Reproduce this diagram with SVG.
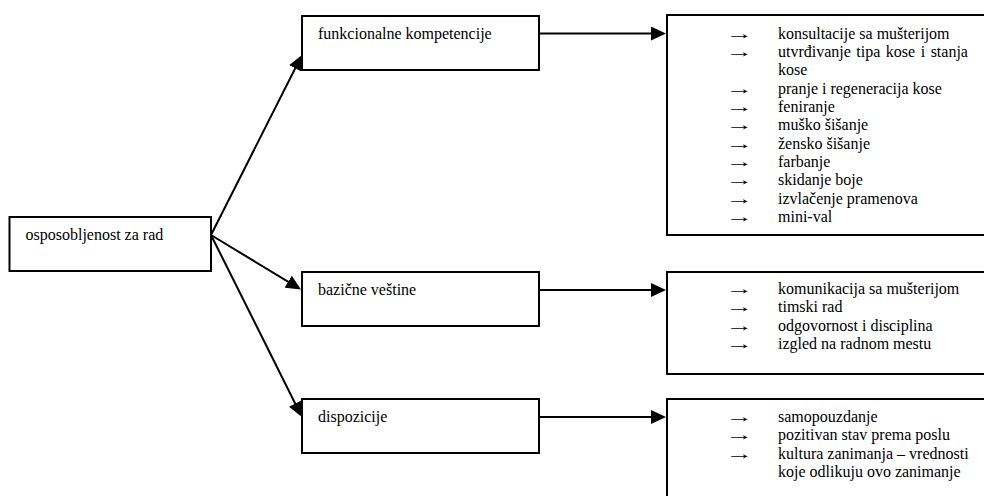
<svg xmlns="http://www.w3.org/2000/svg" width="984" height="496" viewBox="0 0 984 496">
<style>
.box{fill:#fff;stroke:#000;stroke-width:2}
.c{stroke:#000;stroke-width:2;fill:none}
</style>
<defs>
<marker id="ah" markerUnits="userSpaceOnUse" markerWidth="16" markerHeight="14" refX="8" refY="7" orient="auto">
<path d="M0,0 L15,7 L0,14 z" fill="#000"/>
</marker>
</defs>
<rect width="984" height="496" fill="#fff"/>
<g font-family="'Liberation Serif', 'Times New Roman', 'DejaVu Serif', serif" font-size="16" fill="#000">
<g id="n-osposobljenost">
<rect class="box" x="9.5" y="217" width="201.5" height="54"/>
<text x="25.5" y="240">osposobljenost za rad</text>
</g>
<g id="n-funkcionalne">
<rect class="box" x="302" y="16" width="237" height="54"/>
<text x="318" y="39">funkcionalne kompetencije</text>
</g>
<g id="n-bazicne">
<rect class="box" x="302" y="272" width="237" height="54"/>
<text x="318" y="295">bazične veštine</text>
</g>
<g id="n-dispozicije">
<rect class="box" x="302" y="399" width="237" height="54"/>
<text x="318" y="422">dispozicije</text>
</g>
<g id="n-list-funkcionalne">
<rect class="box" x="667" y="15" width="330" height="220"/>
<text transform="translate(726 38.6) scale(1.7 1)">→</text><text x="778" y="38.6">konsultacije sa mušterijom</text>
<text transform="translate(726 57) scale(1.7 1)">→</text><text x="778" y="57" word-spacing="1.5">utvrđivanje tipa kose i stanja</text>
<text x="778" y="75.3">kose</text>
<text transform="translate(726 93.6) scale(1.7 1)">→</text><text x="778" y="93.6">pranje i regeneracija kose</text>
<text transform="translate(726 112) scale(1.7 1)">→</text><text x="778" y="112">feniranje</text>
<text transform="translate(726 130.3) scale(1.7 1)">→</text><text x="778" y="130.3">muško šišanje</text>
<text transform="translate(726 148.6) scale(1.7 1)">→</text><text x="778" y="148.6">žensko šišanje</text>
<text transform="translate(726 167) scale(1.7 1)">→</text><text x="778" y="167">farbanje</text>
<text transform="translate(726 185.3) scale(1.7 1)">→</text><text x="778" y="185.3">skidanje boje</text>
<text transform="translate(726 203.6) scale(1.7 1)">→</text><text x="778" y="203.6">izvlačenje pramenova</text>
<text transform="translate(726 222) scale(1.7 1)">→</text><text x="778" y="222">mini-val</text>
</g>
<g id="n-list-bazicne">
<rect class="box" x="667" y="272" width="330" height="102"/>
<text transform="translate(726 294) scale(1.7 1)">→</text><text x="778" y="294">komunikacija sa mušterijom</text>
<text transform="translate(726 312.3) scale(1.7 1)">→</text><text x="778" y="312.3">timski rad</text>
<text transform="translate(726 330.6) scale(1.7 1)">→</text><text x="778" y="330.6">odgovornost i disciplina</text>
<text transform="translate(726 349) scale(1.7 1)">→</text><text x="778" y="349">izgled na radnom mestu</text>
</g>
<g id="n-list-dispozicije">
<rect class="box" x="667" y="399" width="330" height="120"/>
<text transform="translate(726 422) scale(1.7 1)">→</text><text x="778" y="422">samopouzdanje</text>
<text transform="translate(726 440.3) scale(1.7 1)">→</text><text x="778" y="440.3">pozitivan stav prema poslu</text>
<text transform="translate(726 458.6) scale(1.7 1)">→</text><text x="778" y="458.6">kultura zanimanja – vrednosti</text>
<text x="778" y="477">koje odlikuju ovo zanimanje</text>
</g>
</g>
<g id="connectors">
<line class="c" x1="211" y1="235" x2="298.8" y2="61.2" marker-end="url(#ah)"/>
<line class="c" x1="211" y1="235" x2="295" y2="285.9" marker-end="url(#ah)"/>
<line class="c" x1="211" y1="235" x2="298.8" y2="410.8" marker-end="url(#ah)"/>
<line class="c" x1="539" y1="33.5" x2="659" y2="33.5" marker-end="url(#ah)"/>
<line class="c" x1="539" y1="290" x2="659" y2="290" marker-end="url(#ah)"/>
<line class="c" x1="539" y1="417" x2="659" y2="417" marker-end="url(#ah)"/>
</g>
</svg>
